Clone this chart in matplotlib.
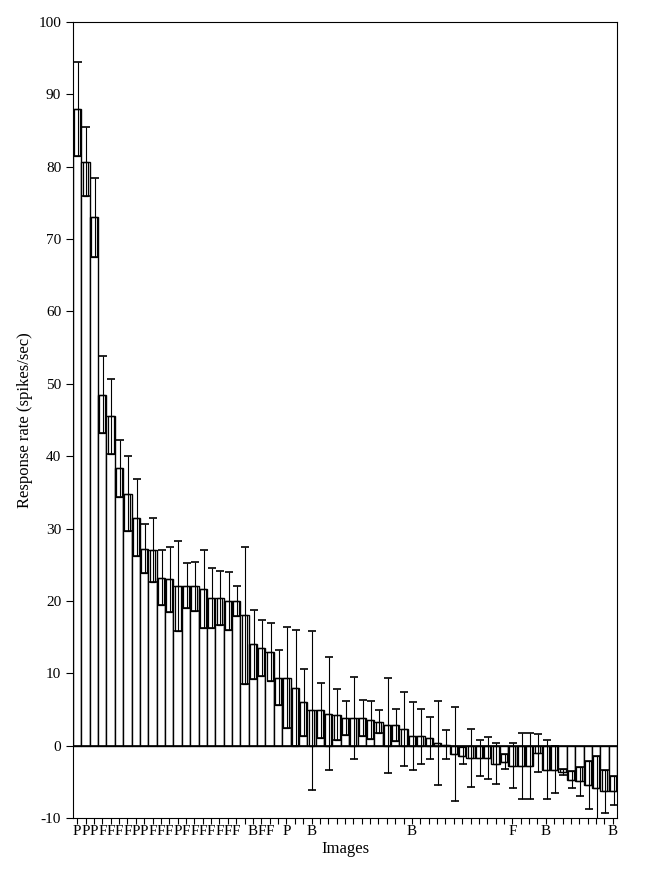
import matplotlib
matplotlib.use("Agg")
import matplotlib.pyplot as plt
import numpy as np

plt.rcParams["font.family"] = ["Liberation Serif", "DejaVu Serif"]
plt.rcParams["axes.unicode_minus"] = False

# mean response per image (spikes/sec), sorted
means = [88.0, 80.7, 73.0, 48.5, 45.5, 38.3, 34.8, 31.5, 27.2, 27.0,
         23.2, 23.0, 22.1, 22.1, 22.0, 21.6, 20.4, 20.4, 20.0, 20.0,
         18.0, 14.0, 13.5, 13.0, 9.4, 9.4, 8.0, 6.0, 4.9, 4.9,
         4.4, 4.3, 3.8, 3.8, 3.8, 3.5, 3.3, 2.8, 2.8, 2.3,
         1.3, 1.3, 1.0, 0.3, 0.1, -1.2, -1.4, -1.7, -1.7, -1.7,
         -2.5, -2.2, -2.8, -2.8, -2.8, -1.0, -3.3, -3.3, -3.6, -4.7,
         -4.9, -5.4, -5.8, -6.3, -6.2]
errors = [6.5, 4.8, 5.5, 5.3, 5.2, 4.0, 5.2, 5.3, 3.4, 4.4,
          3.8, 4.5, 6.2, 3.1, 3.4, 5.4, 4.2, 3.7, 4.0, 2.1,
          9.5, 4.8, 3.9, 4.0, 3.8, 7.0, 8.0, 4.6, 11.0, 3.8,
          7.8, 3.5, 2.3, 5.7, 2.5, 2.6, 1.6, 6.6, 2.2, 5.1,
          4.7, 3.8, 2.9, 5.8, 2.0, 6.5, 1.2, 4.0, 2.5, 2.9,
          2.8, 1.0, 3.1, 4.6, 4.6, 2.6, 4.1, 3.2, 0.4, 1.2,
          2.0, 3.3, 4.4, 3.0, 2.0]
# image category labels (P, F, B) under selected bars
labels = list("PPPFFFFPPFFFPFFFFFFF") + ["", "B", "F", "F", "", "P", "", "", "B"] \
    + [""] * 11 + ["B"] + [""] * 11 + ["F"] + [""] * 3 + ["B"] + [""] * 7 + ["B"]

means = np.array(means)
errors = np.array(errors)
x = np.arange(1, len(means) + 1)

fig = plt.figure(figsize=(6.54, 8.91), dpi=100)
ax = fig.add_axes([73 / 654, 1 - 818 / 891, 544 / 654, 796 / 891])

ax.bar(x, means, width=1.0, color="white", edgecolor="black", linewidth=1.0)
# inner box: from mean toward zero by one error
box_bottom = np.where(means >= 0, np.maximum(means - errors, 0), means)
box_height = np.where(means >= 0, means - box_bottom, np.minimum(errors, -means))
ax.bar(x, box_height, bottom=box_bottom, width=0.7, color="none",
       edgecolor="black", linewidth=0.9)
ax.errorbar(x + 0.1, means, yerr=errors, fmt="none", ecolor="black",
            elinewidth=0.8, capsize=3, capthick=1.2)
ax.axhline(0, color="black", linewidth=1.2)

ax.set_xlim(0.5, 65.5)
ax.set_ylim(-10, 100)
ax.set_yticks(np.arange(-10, 101, 10))
ax.set_xticks(x)
ax.set_xticklabels(labels, fontsize=11)
ax.tick_params(axis="x", direction="out", length=4, pad=1)
ax.tick_params(axis="y", direction="out", length=5, labelsize=11)
ax.set_ylabel("Response rate (spikes/sec)", fontsize=12)
ax.set_xlabel("Images", fontsize=12, labelpad=2)

fig.savefig("out.png", dpi=100)
